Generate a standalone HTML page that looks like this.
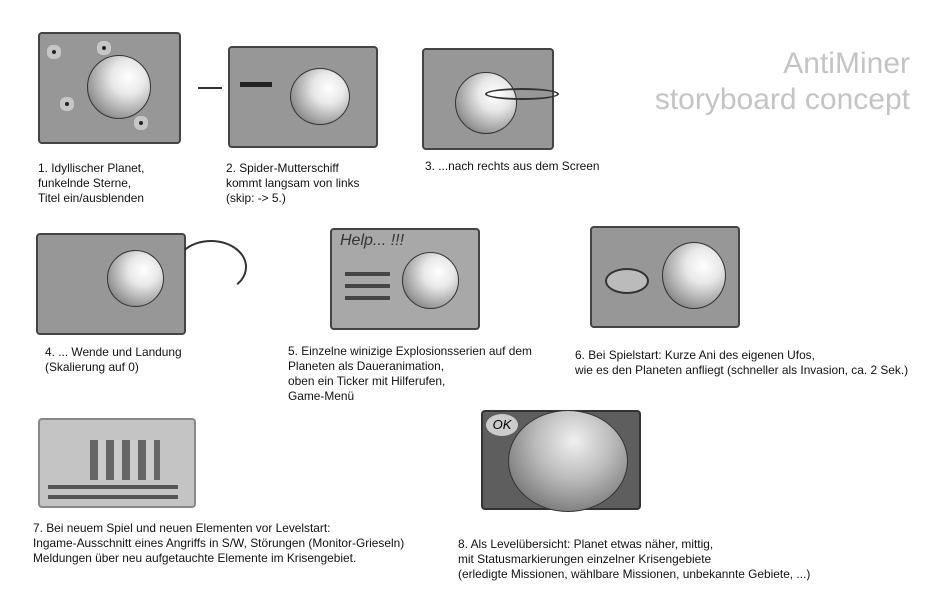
<!DOCTYPE html><html><head><style>
body{margin:0;width:952px;height:600px;background:#fff;position:relative;overflow:hidden;font-family:"Liberation Sans",sans-serif}
.p{position:absolute;background:#979797;border:2px solid #444;border-radius:4px;box-sizing:border-box}
.pl{position:absolute;border-radius:50%;background:radial-gradient(circle at 65% 35%,#fff 0,#e8e8e8 30%,#999 70%,#555 100%);border:1.5px solid #333}
.t{position:absolute;font-size:11.9px;line-height:15px;color:#111;white-space:nowrap}
.s{position:absolute;width:4px;height:4px;background:#222;border-radius:50%;box-shadow:0 0 0 5px rgba(230,230,230,.6)}
</style></head><body>
<div style="position:absolute;right:42px;top:46px;text-align:right;color:#c4c4c4;font-size:30px;line-height:36px">AntiMiner<br>storyboard concept</div>

<div class="p" style="left:38px;top:32px;width:143px;height:112px"></div>
<div class="pl" style="left:87px;top:55px;width:62px;height:62px"></div>
<div class="s" style="left:52px;top:50px"></div><div class="s" style="left:102px;top:46px"></div><div class="s" style="left:65px;top:102px"></div><div class="s" style="left:139px;top:121px"></div>
<div class="t" style="left:38px;top:161px">1. Idyllischer Planet,<br>funkelnde Sterne,<br>Titel ein/ausblenden</div>

<div style="position:absolute;left:198px;top:87px;width:24px;height:2px;background:#333"></div>
<div class="p" style="left:228px;top:46px;width:150px;height:102px"></div>
<div class="pl" style="left:290px;top:68px;width:58px;height:55px"></div>
<div style="position:absolute;left:240px;top:82px;width:32px;height:5px;background:#222"></div>
<div class="t" style="left:226px;top:161px">2. Spider-Mutterschiff<br>kommt langsam von links<br>(skip: -&gt; 5.)</div>

<div class="p" style="left:422px;top:48px;width:132px;height:102px"></div>
<div class="pl" style="left:455px;top:72px;width:60px;height:60px"></div>
<div style="position:absolute;left:485px;top:88px;width:70px;height:8px;border:2px solid #333;border-radius:50%"></div>
<div class="t" style="left:425px;top:159px">3. ...nach rechts aus dem Screen</div>

<div class="p" style="left:36px;top:233px;width:150px;height:102px"></div>
<div class="pl" style="left:107px;top:250px;width:55px;height:55px"></div>
<div style="position:absolute;left:175px;top:240px;width:68px;height:50px;border:2px solid #333;border-radius:50%;border-left-color:transparent;border-bottom-color:transparent"></div>
<div class="t" style="left:45px;top:345px">4. ... Wende und Landung<br>(Skalierung auf 0)</div>

<div class="p" style="left:330px;top:228px;width:150px;height:102px;background:#a8a8a8"></div>
<div class="pl" style="left:402px;top:252px;width:55px;height:55px"></div>
<div style="position:absolute;left:340px;top:232px;font-size:16px;font-style:italic;color:#333">Help... !!!</div>
<div style="position:absolute;left:345px;top:272px;width:45px;height:4px;background:#444;box-shadow:0 12px 0 #444,0 24px 0 #444"></div>
<div class="t" style="left:288px;top:344px">5. Einzelne winizige Explosionsserien auf dem<br>Planeten als Daueranimation,<br>oben ein Ticker mit Hilferufen,<br>Game-Menü</div>

<div class="p" style="left:590px;top:226px;width:150px;height:102px"></div>
<div class="pl" style="left:662px;top:242px;width:62px;height:65px"></div>
<div style="position:absolute;left:605px;top:268px;width:40px;height:22px;border:2px solid #333;border-radius:50%;background:#bbb"></div>
<div class="t" style="left:575px;top:348px">6. Bei Spielstart: Kurze Ani des eigenen Ufos,<br>wie es den Planeten anfliegt (schneller als Invasion, ca. 2 Sek.)</div>

<div class="p" style="left:38px;top:418px;width:158px;height:90px;background:#c4c4c4;border-color:#888"></div>
<div style="position:absolute;left:90px;top:440px;width:70px;height:40px;background:repeating-linear-gradient(90deg,#666 0 8px,#ccc 8px 16px)"></div>
<div style="position:absolute;left:48px;top:485px;width:130px;height:4px;background:#555;box-shadow:0 10px 0 #555"></div>
<div class="t" style="left:33px;top:521px">7. Bei neuem Spiel und neuen Elementen vor Levelstart:<br>Ingame-Ausschnitt eines Angriffs in S/W, Störungen (Monitor-Grieseln)<br>Meldungen über neu aufgetauchte Elemente im Krisengebiet.</div>

<div class="p" style="left:481px;top:410px;width:160px;height:100px;background:#5e5e5e;border-color:#333"></div>
<div class="pl" style="left:508px;top:410px;width:118px;height:100px;background:radial-gradient(circle at 55% 30%,#f0f0f0 0,#bbb 40%,#777 80%,#555 100%)"></div>
<div style="position:absolute;left:486px;top:414px;width:32px;height:22px;border-radius:50%;background:#ccc;font-size:13px;font-style:italic;text-align:center;line-height:22px">OK</div>
<div class="t" style="left:458px;top:537px">8. Als Levelübersicht: Planet etwas näher, mittig,<br>mit Statusmarkierungen einzelner Krisengebiete<br>(erledigte Missionen, wählbare Missionen, unbekannte Gebiete, ...)</div>
</body></html>
